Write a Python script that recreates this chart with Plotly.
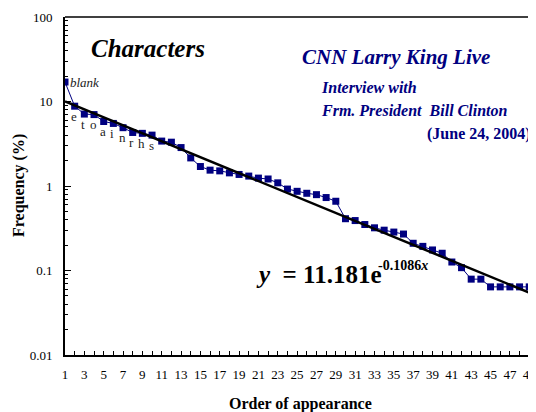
import numpy as np
import plotly.graph_objects as go

# ---- data ----
order = list(range(1, 50))
freq = [17.0, 8.8, 7.1, 7.0, 5.8, 5.5, 4.9, 4.3, 4.2, 4.0,
        3.4, 3.3, 2.85, 2.15, 1.7, 1.54, 1.51, 1.43, 1.37, 1.31,
        1.24, 1.21, 1.09, 0.92, 0.865, 0.82, 0.79, 0.73, 0.66, 0.41,
        0.39, 0.35, 0.32, 0.30, 0.285, 0.27, 0.21, 0.193, 0.175, 0.16,
        0.126, 0.108, 0.079, 0.079, 0.064, 0.064, 0.064, 0.064, 0.064]
char_labels = ["blank", "e", "t", "o", "a", "i", "n", "r", "h", "s"]

# exponential trendline as printed on the chart: y = 11.181 e^(-0.1086 x)
fit_a = 11.181
fit_b = -0.1086
fit_x = np.linspace(1, 50, 200)
fit_y = fit_a * np.exp(fit_b * fit_x)

x_ticks = list(range(1, 51))
x_ticktext = [str(v) if v % 2 == 1 else "" for v in x_ticks]
y_ticks = [0.01, 0.1, 1, 10, 100]
y_ticktext = ["0.01", "0.1", "1", "10", "100"]
y_minor = [m * 10.0 ** d for d in range(-2, 2) for m in range(2, 10)]

SERIF = "Liberation Serif"
NAVY = "#000080"

fig = go.Figure()
fig.add_trace(go.Scatter(
    x=order, y=freq, mode="lines+markers",
    line=dict(color=NAVY, width=1),
    marker=dict(symbol="square", size=7, color=NAVY),
    showlegend=False, hoverinfo="skip"))
fig.add_trace(go.Scatter(
    x=fit_x, y=fit_y, mode="lines",
    line=dict(color="black", width=2.5),
    showlegend=False, hoverinfo="skip"))

annotations = []
# character labels
annotations.append(dict(x=order[0], y=np.log10(freq[0]), xref="x", yref="y",
                        text="<i>" + char_labels[0] + "</i>", showarrow=False,
                        xanchor="left", yanchor="middle", xshift=3,
                        font=dict(family=SERIF, size=13, color="#222222")))
for i, ch in enumerate(char_labels[1:], start=1):
    annotations.append(dict(x=order[i], y=np.log10(freq[i]), xref="x", yref="y",
                            text=ch, showarrow=False, xanchor="center",
                            yanchor="middle", xshift=-1, yshift=-10,
                            font=dict(family=SERIF, size=13, color="#222222")))


# helpers: page pixel -> paper coordinates (plot area spans x 65..536, y 17..355)
def px(xp):
    return (xp - 65) / 471.0


def py(yp):
    return (355 - yp) / 338.0


def txt(text, x, y, size, color="black", xanchor="left"):
    annotations.append(dict(x=px(x), y=py(y), xref="paper", yref="paper",
                            text=text, showarrow=False, xanchor=xanchor,
                            yanchor="middle",
                            font=dict(family=SERIF, size=size, color=color)))


txt("<b><i>Characters</i></b>", 89, 48, 25)
txt("<b><i>CNN Larry King Live</i></b>", 300, 57, 21, NAVY)
txt("<b><i>Interview with</i></b>", 319, 88, 16, NAVY)
txt("<b><i>Frm. President  Bill Clinton</i></b>", 319, 111, 16, NAVY)
txt("<b>(June 24, 2004)</b>", 533, 134, 16, NAVY, xanchor="right")
txt("<b><i>y</i>  = 11.181e</b>", 254, 274, 25)
txt("<b>-0.1086<i>x</i></b>", 376, 265, 14)

# axis titles
annotations.append(dict(x=px(300), y=py(404), xref="paper", yref="paper",
                        text="<b>Order of appearance</b>", showarrow=False,
                        xanchor="center", yanchor="middle",
                        font=dict(family=SERIF, size=16, color="black")))
annotations.append(dict(x=px(19), y=0.5, xref="paper", yref="paper",
                        text="<b>Frequency (%)</b>", showarrow=False, textangle=-90,
                        xanchor="center", yanchor="middle",
                        font=dict(family=SERIF, size=16, color="black")))

# the page body adds an 8px offset, so the figure is 8px smaller on each axis
fig.update_layout(
    width=528, height=404,
    margin=dict(l=57, r=0, t=9, b=57),
    paper_bgcolor="white", plot_bgcolor="white",
    annotations=annotations,
    shapes=[dict(type="line", xref="paper", yref="paper", x0=0, x1=1, y0=1, y1=1,
                 line=dict(color="black", width=1.5))],
    xaxis=dict(range=[1, 49.7], showline=True, linecolor="black", linewidth=2,
               showgrid=False, zeroline=False, ticks="inside", ticklen=4,
               tickwidth=1, tickcolor="black", tickvals=x_ticks,
               ticktext=x_ticktext, ticklabelstandoff=6,
               ticklabeloverflow="allow",
               tickfont=dict(family=SERIF, size=13, color="black")),
    yaxis=dict(type="log", range=[-2, 2], showline=True, linecolor="black",
               linewidth=2, showgrid=False, zeroline=False, ticks="inside",
               ticklen=6, tickwidth=1, tickcolor="black", tickvals=y_ticks,
               ticktext=y_ticktext, ticklabelstandoff=8,
               minor=dict(tickvals=y_minor, ticks="inside", ticklen=3,
                          tickcolor="black", tickwidth=1, showgrid=False),
               tickfont=dict(family=SERIF, size=13, color="black")),
)

fig.write_html("out.html")
